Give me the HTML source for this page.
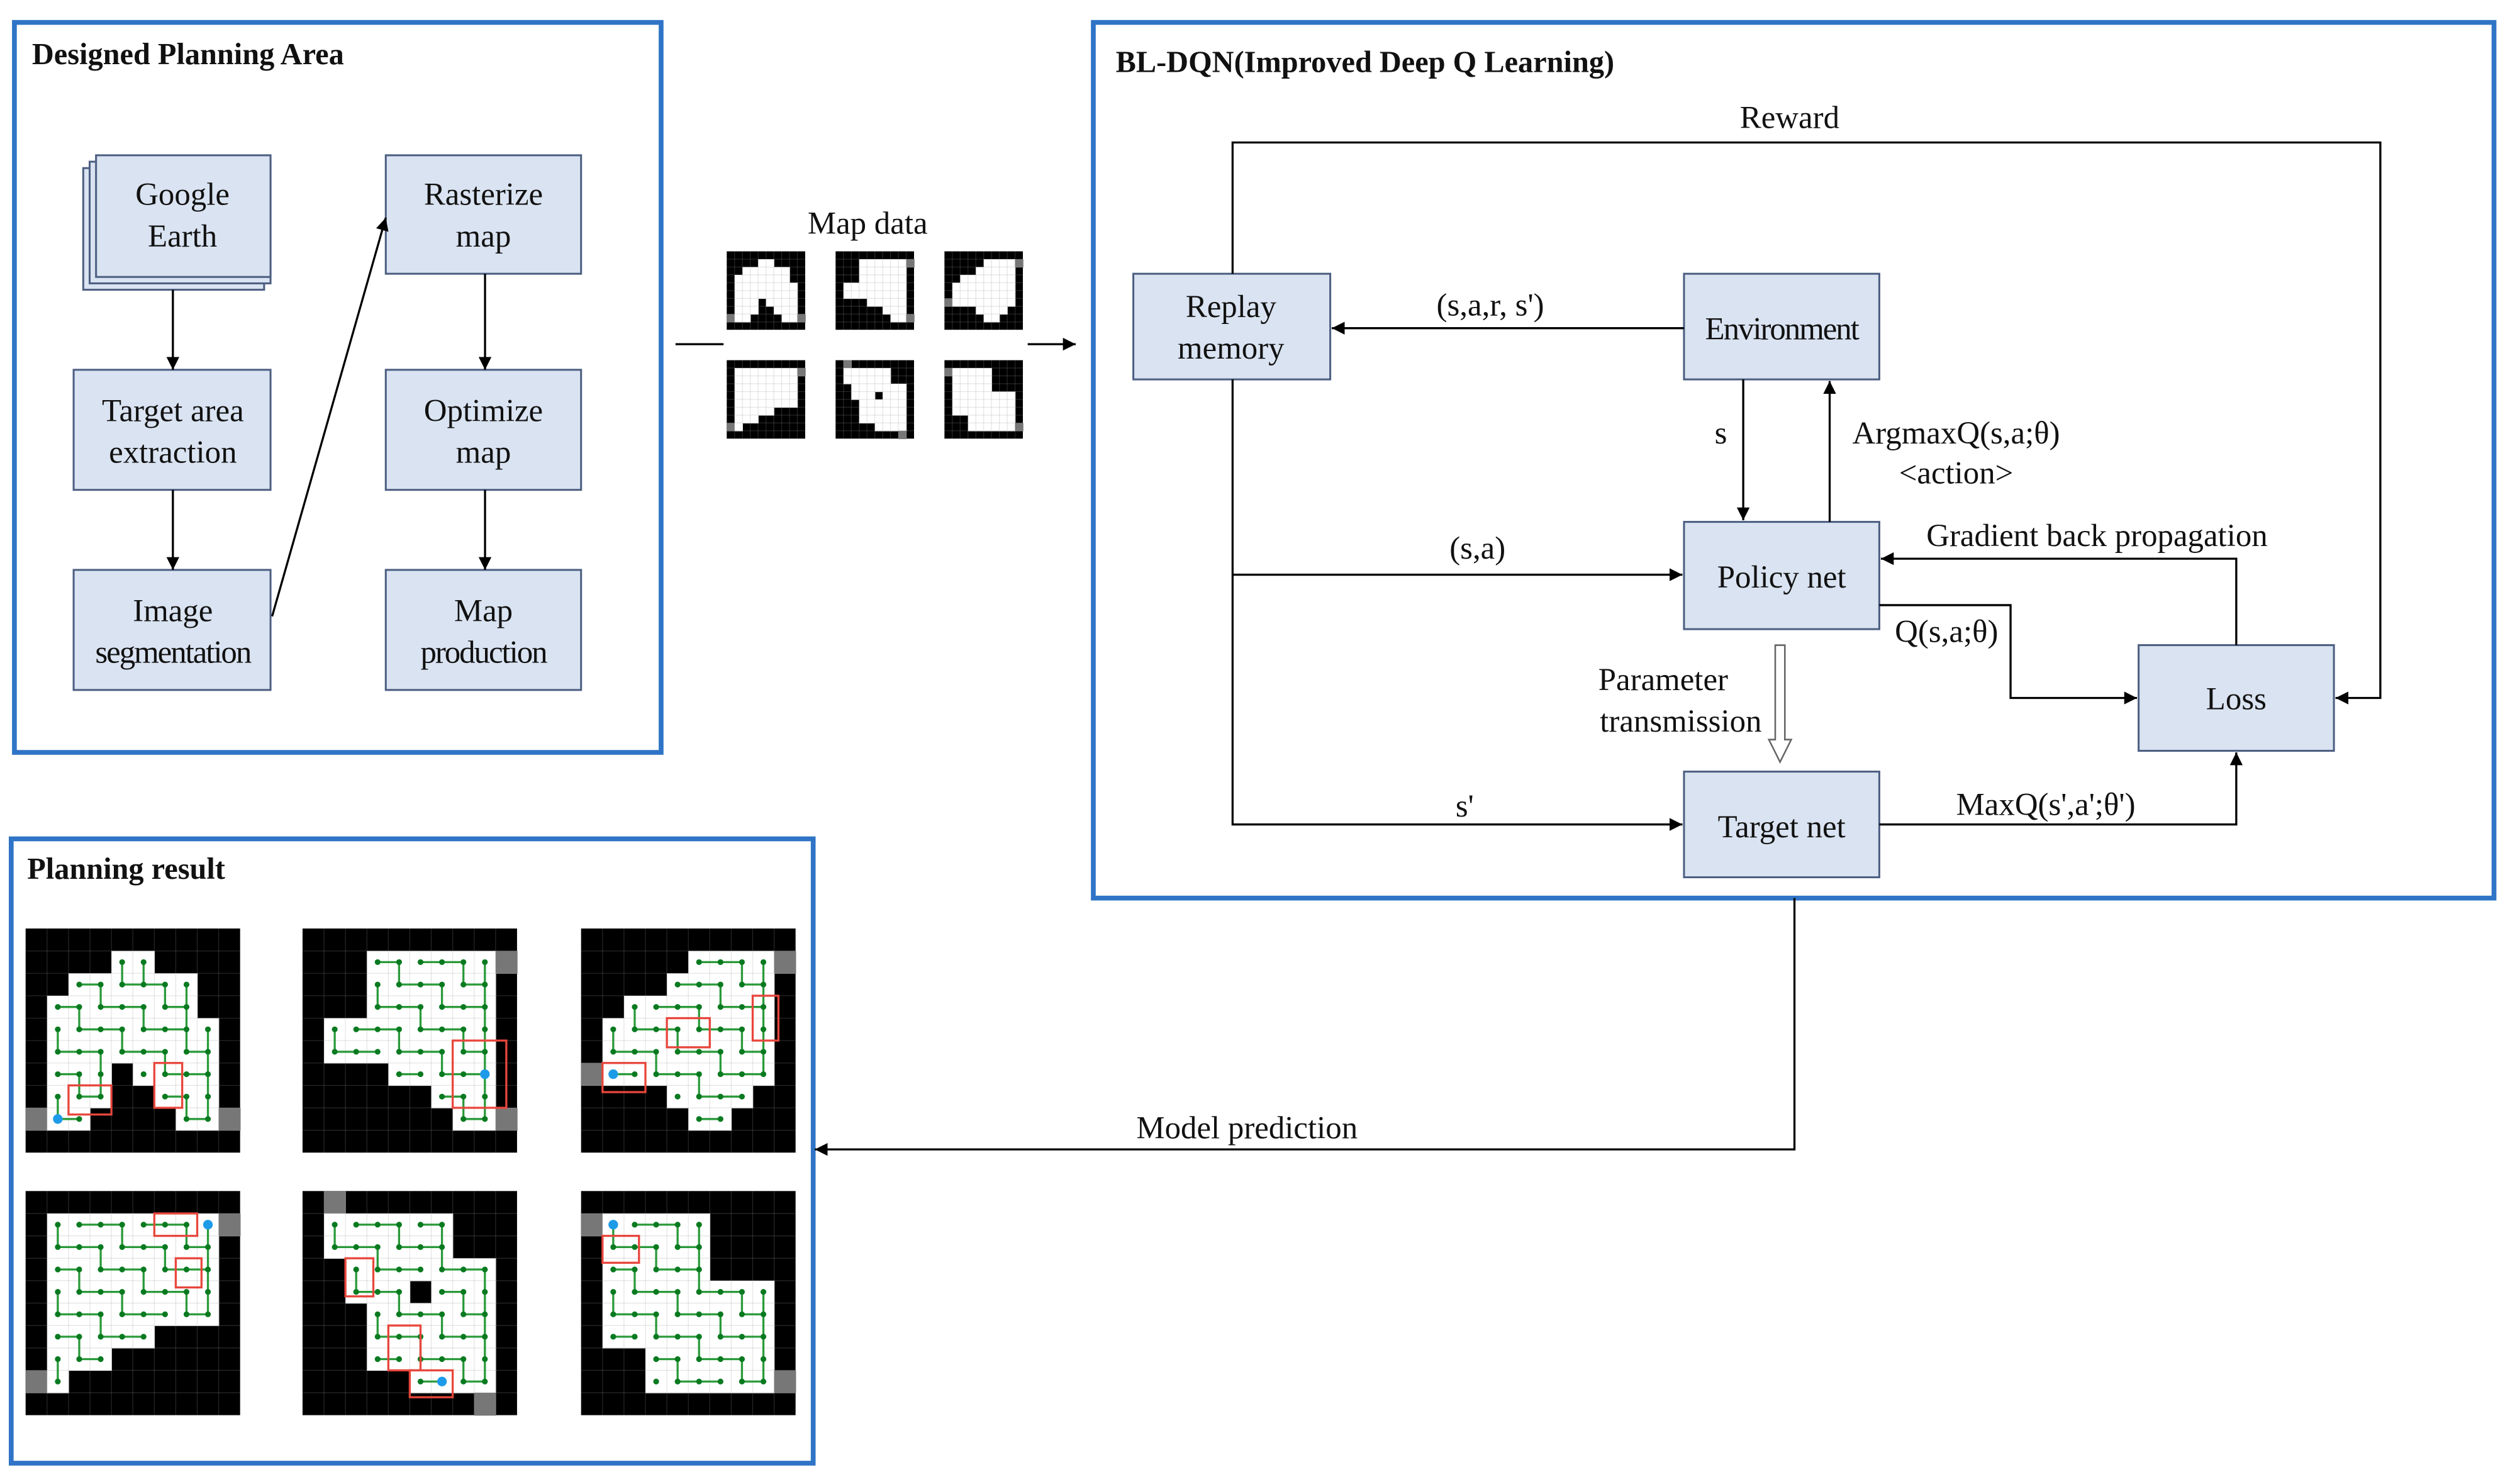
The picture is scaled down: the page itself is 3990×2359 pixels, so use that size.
<!DOCTYPE html>
<html><head><meta charset="utf-8">
<style>
html,body{margin:0;padding:0;background:#fff;}
svg{display:block;}
text{font-family:"Liberation Serif","Times New Roman",serif;fill:#111;}
</style></head>
<body>
<svg id="s" width="3990" height="2359" viewBox="0 0 1568 927" preserveAspectRatio="none" xmlns="http://www.w3.org/2000/svg" font-family="Liberation Serif, serif">
<defs>
<marker id="a" viewBox="0 0 10 10" refX="10" refY="5" markerWidth="8" markerHeight="8" markerUnits="userSpaceOnUse" orient="auto"><path d="M0,0 L10,5 L0,10 z" fill="#000"/></marker>
</defs>
<rect width="1568" height="927" fill="#fff"/>
<rect x="9" y="14" width="404" height="456" fill="none" stroke="#2f74c6" stroke-width="3"/>
<rect x="683" y="14" width="875" height="547" fill="none" stroke="#2f74c6" stroke-width="3"/>
<rect x="7" y="524" width="501" height="390" fill="none" stroke="#2f74c6" stroke-width="3"/>
<text x="20" y="40" font-size="19" font-weight="bold">Designed Planning Area</text>
<text x="697" y="45" font-size="19" font-weight="bold">BL-DQN(Improved Deep Q Learning)</text>
<text x="17" y="549" font-size="19" font-weight="bold">Planning result</text>

<g fill="#dae3f1" stroke="#4d5f82" stroke-width="1.2">
<rect x="52" y="105" width="113" height="76"/>
<rect x="56" y="101" width="113" height="76"/>
<rect x="60" y="97" width="109" height="76"/>
<rect x="46" y="231" width="123" height="75"/>
<rect x="46" y="356" width="123" height="75"/>
<rect x="241" y="97" width="122" height="74"/>
<rect x="241" y="231" width="122" height="75"/>
<rect x="241" y="356" width="122" height="75"/>
<rect x="708" y="171" width="123" height="66"/>
<rect x="1052" y="171" width="122" height="66"/>
<rect x="1052" y="326" width="122" height="67"/>
<rect x="1052" y="482" width="122" height="66"/>
<rect x="1336" y="403" width="122" height="66"/>
</g>
<g font-size="20" text-anchor="middle" font-family="Liberation Serif, serif">
<text x="114" y="128">Google</text><text x="114" y="154">Earth</text>
<text x="108" y="263">Target area</text><text x="108" y="289">extraction</text>
<text x="108" y="388">Image</text><text x="108" y="414" letter-spacing="-0.8">segmentation</text>
<text x="302" y="128">Rasterize</text><text x="302" y="154">map</text>
<text x="302" y="263">Optimize</text><text x="302" y="289">map</text>
<text x="302" y="388">Map</text><text x="302" y="414" letter-spacing="-0.8">production</text>
<text x="769" y="198">Replay</text><text x="769" y="224">memory</text>
<text x="1113" y="212" letter-spacing="-0.8">Environment</text>
<text x="1113" y="367">Policy net</text>
<text x="1113" y="523">Target net</text>
<text x="1397" y="443">Loss</text>
<text x="542" y="146">Map data</text>
<text x="1118" y="80">Reward</text>
<text x="931" y="197">(s,a,r, s')</text>
<text x="1075" y="277">s</text>
<text x="1222" y="277">ArgmaxQ(s,a;θ)</text>
<text x="1222" y="302">&lt;action&gt;</text>
<text x="1310" y="341">Gradient back propagation</text>
<text x="923" y="349">(s,a)</text>
<text x="1216" y="401">Q(s,a;θ)</text>
<text x="1039" y="431">Parameter</text>
<text x="1050" y="457">transmission</text>
<text x="915" y="510">s'</text>
<text x="1278" y="509">MaxQ(s',a';θ')</text>
<text x="779" y="711">Model prediction</text>
</g>
<g stroke="#000" stroke-width="1.3" fill="none" marker-end="url(#a)">
<path d="M108,181 V231"/><path d="M108,306 V356"/>
<path d="M303,171 V231"/><path d="M303,306 V356"/>
<path d="M170,385 L241,136"/>
<path d="M642,215 H672"/>
<path d="M770,171 V89 H1487 V436 H1459"/>
<path d="M770,237 V515 H1051"/>
<path d="M770,359 H1051"/>
<path d="M1052,205 H832"/>
<path d="M1089,237 V325"/>
<path d="M1143,326 V238"/>
<path d="M1397,403 V349 H1175"/>
<path d="M1174,378 H1256 V436 H1335"/>
<path d="M1174,515 H1397 V470"/>
<path d="M1121,561 V718 H509"/>
</g>
<path d="M422,215 H452" stroke="#000" stroke-width="1.3"/>
<path d="M1109,403 V462 H1105 L1112,476 L1119,462 H1115 V403 z" fill="#fff" stroke="#666" stroke-width="1"/>
<g id="thumbs"></g>
</svg>
<script>
var maps=[
["0000000000","0000110000","0011111100","0111111100","0111111110","0111111110","0111011110","0111001110","2110000112","0000000000"],
["0000000000","0001111112","0001111110","0001111110","0111111110","0111111110","0000111110","0000001110","0000000112","0000000000"],
["0000000000","0000011112","0000111110","0011111110","0111111110","0111111110","2111111110","0000111100","0000011000","0000000000"],
["0000000000","0111111112","0111111110","0111111110","0111111110","0111111110","0111110000","0111000000","2100000000","0000000000"],
["0200000000","0111111000","0111111000","0011111110","0011101110","0001111110","0001111110","0001111110","0000011110","0000000020"],
["0000000000","2111110000","0111110000","0111110000","0111111110","0111111110","0111111110","0001111110","0001111112","0000000000"]];
var NS="http://www.w3.org/2000/svg",g=document.getElementById("thumbs");
function el(t,a){var e=document.createElementNS(NS,t);for(var k in a)e.setAttribute(k,a[k]);g.appendChild(e);return e;}
function draw(m,x,y,w,h,paths,reds,blue){
 el("rect",{x:x,y:y,width:w,height:h,fill:"#000"});
 var cw=w/10,ch=h/10;
 for(var r=0;r<10;r++)for(var c=0;c<10;c++){var v=m[r][c];
  if(v!="0")el("rect",{x:x+c*cw,y:y+r*ch,width:cw+0.3,height:ch+0.3,fill:v=="1"?"#fff":"#777"});}
 for(var i=1;i<10;i++){el("line",{x1:x+i*cw,y1:y,x2:x+i*cw,y2:y+h,stroke:"#999","stroke-opacity":0.25,"stroke-width":0.5});
  el("line",{x1:x,y1:y+i*ch,x2:x+w,y2:y+i*ch,stroke:"#999","stroke-opacity":0.25,"stroke-width":0.5});}
 if(!paths)return;
 for(var r=0;r<10;r++)for(var c=0;c<10;c++){if(m[r][c]!="1")continue;
  var cx=x+(c+.5)*cw,cy=y+(r+.5)*ch;
  if(c<9&&m[r][c+1]=="1"&&((c+r)%3!=2))el("line",{x1:cx,y1:cy,x2:cx+cw,y2:cy,stroke:"#2a9a3a","stroke-width":1.3});
  else if(r<9&&m[r+1][c]=="1")el("line",{x1:cx,y1:cy,x2:cx,y2:cy+ch,stroke:"#2a9a3a","stroke-width":1.3});
  el("circle",{cx:cx,cy:cy,r:1.8,fill:"#0a7a20"});}
 reds.forEach(function(q){el("rect",{x:x+q[0]*cw,y:y+q[1]*ch,width:q[2]*cw,height:q[3]*ch,fill:"none",stroke:"#e8463c","stroke-width":1.3});});
 el("circle",{cx:x+(blue[0]+.5)*cw,cy:y+(blue[1]+.5)*ch,r:3,fill:"#1e9be8"});
}
var dx=[454,522,590],dy=[157,225];
for(var i=0;i<6;i++)draw(maps[i],dx[i%3],dy[Math.floor(i/3)],49,49,false);
var px=[16,189,363],py=[580,744];
var reds=[[[2,7,2,1.3],[6,6,1.3,2]],[[7,5,2.5,3]],[[1,6,2,1.3],[4,4,2,1.3],[8,3,1.2,2]],[[6,1,2,1],[7,3,1.2,1.3]],[[2,3,1.3,1.7],[4,6,1.5,2],[5,8,2,1.2]],[[1,2,1.7,1.2]]];
var blues=[[1,8],[8,6],[1,6],[8,1],[6,8],[1,1]];
for(var i=0;i<6;i++)draw(maps[i],px[i%3],py[Math.floor(i/3)],134,140,true,reds[i],blues[i]);
</script>
</body></html>
